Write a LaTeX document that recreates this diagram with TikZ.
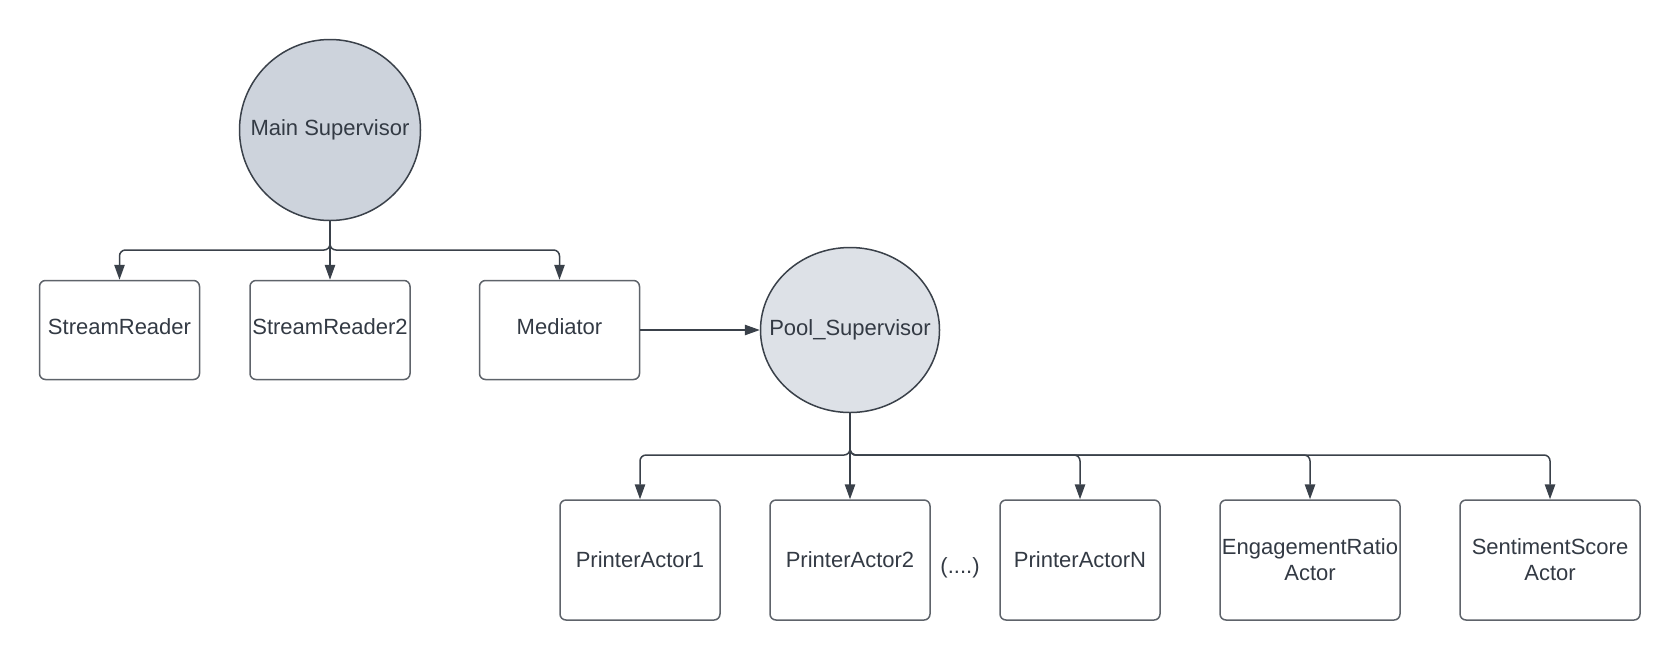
\documentclass[tikz,border=0pt]{standalone}
\usepackage{fontspec}
\setmainfont{Liberation Sans}
\usetikzlibrary{arrows.meta, shapes.geometric}

\definecolor{supfill}{HTML}{CDD3DC}
\definecolor{poolfill}{HTML}{DDE1E7}
\definecolor{wire}{HTML}{3A414A}
\definecolor{boxline}{HTML}{5E636A}
\definecolor{ink}{HTML}{333A44}

\newcommand{\uplift}[1]{\raisebox{1.8pt}[\height][\depth]{#1}}

\begin{document}
\begin{tikzpicture}[
            x = 0.5pt, y = -0.5pt, % pixel grid, y downwards
            > = {Triangle[length=7.5pt, width=5.2pt]}, % arrow head style
            line width = 0.75pt, % line style
            font = \fontsize{11}{13}\selectfont,
            text = ink
        ]

        \tikzset{
            supervisor/.style = {
                circle,
                draw = wire,
                fill = supfill,
                inner sep = 0pt,
                minimum size = 90.5pt
            },
            actor/.style = {
                rectangle,
                draw = boxline,
                rounded corners = 3pt,
                fill = white,
                align = center,
                inner sep = 0pt,
                minimum width = 80pt,
                minimum height = 49.5pt
            },
            wide actor/.style = {
                actor,
                minimum width = 90pt,
                minimum height = 60pt
            },
            link/.style = {
                draw = wire,
                ->,
                rounded corners = 3pt
            }
        }

        \useasboundingbox (0,0) rectangle (1680,660);

        % top level
        \node[supervisor] (ms) at (330,130) {Main Supervisor};
        \node[actor] (sr1) at (119.5,330) {\uplift{StreamReader}};
        \node[actor] (sr2) [right of=sr1, node distance=105.25pt] {\uplift{StreamReader2}};
        \node[actor] (med) [right of=sr2, node distance=114.75pt] {\uplift{Mediator}};

        % pool
        \node[supervisor, ellipse, fill = poolfill, minimum width = 89.5pt,
              minimum height = 82.5pt] (ps) at (850,330) {\makebox[0pt]{Pool\_Supervisor}};
        \node[actor, minimum height = 60pt] (pa1) at (640,560) {PrinterActor1};
        \node[actor, minimum height = 60pt] (pa2) [right of=pa1, node distance=105pt] {PrinterActor2};
        \node[actor, minimum height = 60pt] (paN) [right of=pa2, node distance=115pt] {PrinterActorN};
        \node[wide actor] (era) [right of=paN, node distance=115pt] {EngagementRatio\\Actor};
        \node[wide actor] (ssa) [right of=era, node distance=120pt] {SentimentScore\\Actor};
        \node (dots) at (960,568) {(....)};

        \coordinate (msj) at (330,250);
        \coordinate (psj) at (850,455);

        \path[link] (ms.south) -- (msj) -| (sr1.north);
        \path[link] (ms.south) -- (sr2.north);
        \path[link] (ms.south) -- (msj) -| (med.north);
        \path[link] (med.east) -- (ps.west);

        \path[link] (ps.south) -- (psj) -| (pa1.north);
        \path[link] (ps.south) -- (pa2.north);
        \path[link] (ps.south) -- (psj) -| (paN.north);
        \path[link] (ps.south) -- (psj) -| (era.north);
        \path[link] (ps.south) -- (psj) -| (ssa.north);

\end{tikzpicture}
\end{document}
